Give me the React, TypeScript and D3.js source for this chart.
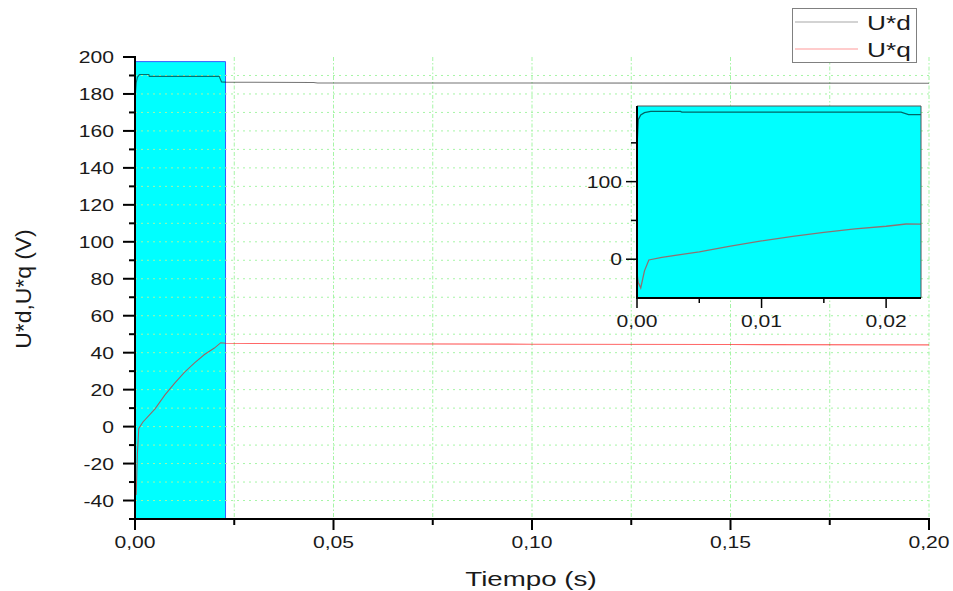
import React from 'react';
import * as d3 from 'd3';

// ---- data ----
const tD = [0, 0.0001, 0.0003, 0.0006, 0.0011, 0.0035, 0.0036, 0.0212, 0.0218, 0.0228, 0.03, 0.045, 0.046, 0.1, 0.2];
const uD = [145, 180, 186, 189, 190.5, 190.5, 189.5, 189.5, 186.5, 186.4, 186.3, 186.2, 185.9, 185.9, 185.8];
const tQ = [0, 0.0001, 0.0003, 0.0006, 0.00095, 0.002, 0.005, 0.0075, 0.01, 0.0125, 0.015, 0.0175, 0.02, 0.0216, 0.0228, 0.03, 0.05, 0.1, 0.15, 0.2];
const uQ = [-18, -30, -37, -15, -1, 2.5, 9.5, 17, 23.5, 29.5, 34.5, 39, 42.5, 45.4, 45.1, 45, 44.8, 44.6, 44.4, 44.2];

const xMajor = [0, 0.05, 0.1, 0.15, 0.2];
const xMinor = [0.025, 0.075, 0.125, 0.175];
const yMajor = [-40, -20, 0, 20, 40, 60, 80, 100, 120, 140, 160, 180, 200];
const yMinor = [-50, -30, -10, 10, 30, 50, 70, 90, 110, 130, 150, 170, 190];
const gridX = [0.025, 0.05, 0.075, 0.1, 0.125, 0.15, 0.175, 0.2];
const gridY = [-40, -30, -20, -10, 0, 10, 20, 30, 40, 50, 60, 70, 80, 90, 100, 110, 120, 130, 140, 150, 160, 170, 180, 190];

const insetXMajor = [0, 0.01, 0.02];
const insetXMinor = [0.005, 0.015];
const insetYMajor = [0, 100];
const insetYMinor = [50, 150];
const insetXDomain = [0, 0.0228];
const insetYDomain = [-50, 197.5];

const seriesNames = ['U*d', 'U*q'];

const SX = 1.32;
const FONT = 'Liberation Sans, Arial, sans-serif';

function SText({ x, y, anchor = 'start', size = 16, rot = 0, sx = SX, children }: any) {
  return (
    <text
      transform={`translate(${x},${y}) rotate(${rot}) scale(${sx},1)`}
      textAnchor={anchor}
      fontSize={size}
      fontFamily={FONT}
      fill="#1a1a1a"
    >
      {children}
    </text>
  );
}

const fmtX = (v: number) => d3.format('.2f')(v).replace('.', ',');

export default function App() {
  const xs = d3.scaleLinear().domain([0, 0.2]).range([135, 929]);
  const ys = d3.scaleLinear().domain([-50, 200]).range([519, 57]);
  const xi = d3.scaleLinear().domain(insetXDomain).range([637, 921]);
  const yi = d3.scaleLinear().domain(insetYDomain).range([298, 106]);

  const dPts = tD.map((t, i) => [t, uD[i]] as [number, number]);
  const qPts = tQ.map((t, i) => [t, uQ[i]] as [number, number]);

  const lineMain = d3.line<[number, number]>().x(d => xs(d[0])).y(d => ys(d[1]));
  const lineInset = d3.line<[number, number]>().x(d => xi(d[0])).y(d => yi(d[1]));

  const gridColor = '#a6f5a6';
  const boxX0 = xs(0) + 1;
  const boxX1 = xs(insetXDomain[1]);
  const boxY0 = ys(insetYDomain[1]);
  const boxY1 = ys(-50);

  return (
    <svg width={953} height={591} style={{ position: 'absolute', left: 0, top: 0, background: '#fff' }}>
      <defs>
        <clipPath id="insetClip">
          <rect x={xi(0)} y={yi(insetYDomain[1])} width={xi(insetXDomain[1]) - xi(0)} height={yi(-50) - yi(insetYDomain[1])} />
        </clipPath>
      </defs>
      <rect x={0} y={0} width={953} height={591} fill="#fff" />

      {/* zoom box */}
      <rect x={boxX0} y={boxY0} width={boxX1 - boxX0} height={boxY1 - boxY0} fill="#00ffff" />
      <path d={`M${boxX0},${boxY0}H${boxX1}V${boxY1}`} fill="none" stroke="#3a5cff" strokeWidth={1} />

      {/* grid */}
      {gridY.map(v => (
        <line key={'gy' + v} x1={xs(0)} x2={xs(0.2)} y1={ys(v)} y2={ys(v)} stroke={gridColor} strokeWidth={1} strokeDasharray="2,4" />
      ))}
      {gridX.map(v => (
        <line key={'gx' + v} x1={xs(v)} x2={xs(v)} y1={ys(200)} y2={ys(-50)} stroke={gridColor} strokeWidth={1} strokeDasharray="4,2,1.5,2" />
      ))}

      {/* main lines */}
      <path d={lineMain(dPts) || ''} fill="none" stroke="#000" strokeOpacity={0.55} strokeWidth={1.1} />
      <path d={lineMain(qPts) || ''} fill="none" stroke="#f00" strokeOpacity={0.6} strokeWidth={1.1} />

      {/* main axes */}
      <line x1={xs(0)} x2={xs(0)} y1={ys(200) - 1} y2={ys(-50) + 1} stroke="#000" strokeWidth={2} />
      <line x1={xs(0) - 1} x2={xs(0.2) + 1} y1={ys(-50)} y2={ys(-50)} stroke="#000" strokeWidth={2} />
      {yMajor.map(v => (
        <g key={'ym' + v}>
          <line x1={xs(0) - 12} x2={xs(0)} y1={ys(v)} y2={ys(v)} stroke="#000" strokeWidth={2} />
          <SText x={114} y={ys(v) + 6} anchor="end">{String(v)}</SText>
        </g>
      ))}
      {yMinor.map(v => (
        <line key={'yn' + v} x1={xs(0) - 6} x2={xs(0)} y1={ys(v)} y2={ys(v)} stroke="#000" strokeWidth={2} />
      ))}
      {xMajor.map(v => (
        <g key={'xm' + v}>
          <line x1={xs(v)} x2={xs(v)} y1={ys(-50)} y2={ys(-50) + 11} stroke="#000" strokeWidth={2} />
          <SText x={xs(v)} y={548} anchor="middle">{fmtX(v)}</SText>
        </g>
      ))}
      {xMinor.map(v => (
        <line key={'xn' + v} x1={xs(v)} x2={xs(v)} y1={ys(-50)} y2={ys(-50) + 6} stroke="#000" strokeWidth={2} />
      ))}

      <SText x={531} y={586} anchor="middle" size={21}>Tiempo (s)</SText>
      <SText x={31} y={289} anchor="middle" size={22} rot={-90} sx={1.04}>U*d,U*q (V)</SText>

      {/* inset */}
      <rect x={xi(0)} y={yi(insetYDomain[1])} width={xi(insetXDomain[1]) - xi(0)} height={yi(-50) - yi(insetYDomain[1])} fill="#00ffff" />
      <g clipPath="url(#insetClip)">
        <path d={lineInset(dPts) || ''} fill="none" stroke="#000" strokeOpacity={0.6} strokeWidth={1.3} />
        <path d={lineInset(qPts) || ''} fill="none" stroke="#f00" strokeOpacity={0.55} strokeWidth={1.3} />
      </g>
      <path d={`M${xi(0)},${yi(insetYDomain[1])}H${xi(insetXDomain[1])}V${yi(-50)}`} fill="none" stroke="#555" strokeWidth={1} />
      <line x1={xi(0)} x2={xi(0)} y1={yi(insetYDomain[1])} y2={yi(-50) + 1} stroke="#000" strokeWidth={2} />
      <line x1={xi(0) - 1} x2={xi(insetXDomain[1])} y1={yi(-50)} y2={yi(-50)} stroke="#000" strokeWidth={2} />
      {insetYMajor.map(v => (
        <g key={'iym' + v}>
          <line x1={xi(0) - 11} x2={xi(0)} y1={yi(v)} y2={yi(v)} stroke="#000" strokeWidth={1.5} />
          <SText x={622} y={yi(v) + 6} anchor="end">{String(v)}</SText>
        </g>
      ))}
      {insetYMinor.map(v => (
        <line key={'iyn' + v} x1={xi(0) - 6} x2={xi(0)} y1={yi(v)} y2={yi(v)} stroke="#000" strokeWidth={1.5} />
      ))}
      {insetXMajor.map(v => (
        <g key={'ixm' + v}>
          <line x1={xi(v)} x2={xi(v)} y1={yi(-50)} y2={yi(-50) + 10} stroke="#000" strokeWidth={1.5} />
          <SText x={xi(v)} y={327} anchor="middle">{fmtX(v)}</SText>
        </g>
      ))}
      {insetXMinor.map(v => (
        <line key={'ixn' + v} x1={xi(v)} x2={xi(v)} y1={yi(-50)} y2={yi(-50) + 5} stroke="#000" strokeWidth={1.5} />
      ))}

      {/* legend */}
      <rect x={792.5} y={8.5} width={124} height={54} fill="#fff" stroke="#808080" strokeWidth={1} />
      <line x1={795} x2={858} y1={22} y2={22} stroke="#000" strokeOpacity={0.35} strokeWidth={1.2} />
      <line x1={795} x2={858} y1={49} y2={49} stroke="#f00" strokeOpacity={0.4} strokeWidth={1.2} />
      <SText x={867} y={29.5} size={21} sx={1.25}>{seriesNames[0]}</SText>
      <SText x={867} y={56.5} size={21} sx={1.25}>{seriesNames[1]}</SText>
    </svg>
  );
}
